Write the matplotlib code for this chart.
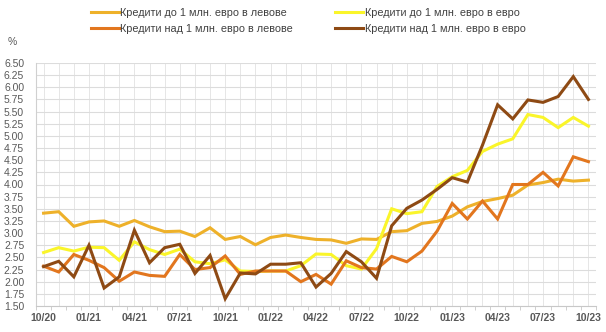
import matplotlib
matplotlib.use("Agg")
import matplotlib.pyplot as plt
import numpy as np

plt.rcParams["font.family"] = ["Liberation Sans", "DejaVu Sans"]

months = ["10/20", "11/20", "12/20", "01/21", "02/21", "03/21", "04/21", "05/21", "06/21",
          "07/21", "08/21", "09/21", "10/21", "11/21", "12/21", "01/22", "02/22", "03/22",
          "04/22", "05/22", "06/22", "07/22", "08/22", "09/22", "10/22", "11/22", "12/22",
          "01/23", "02/23", "03/23", "04/23", "05/23", "06/23", "07/23", "08/23", "09/23",
          "10/23"]

# loans up to 1 mln EUR in BGN
small_bgn = [3.41, 3.44, 3.14, 3.23, 3.25, 3.14, 3.26, 3.13, 3.03, 3.04, 2.93, 3.11, 2.87,
             2.93, 2.76, 2.91, 2.96, 2.91, 2.87, 2.86, 2.79, 2.88, 2.87, 3.03, 3.05, 3.20,
             3.24, 3.35, 3.54, 3.65, 3.71, 3.78, 3.99, 4.04, 4.11, 4.07, 4.09]
# loans up to 1 mln EUR in EUR
small_eur = [2.60, 2.70, 2.63, 2.71, 2.70, 2.44, 2.82, 2.66, 2.56, 2.67, 2.41, 2.37, 2.45,
             2.22, 2.21, 2.22, 2.22, 2.33, 2.57, 2.56, 2.33, 2.26, 2.68, 3.50, 3.40, 3.44,
             3.96, 4.16, 4.29, 4.68, 4.83, 4.94, 5.44, 5.38, 5.17, 5.38, 5.20]
# loans over 1 mln EUR in BGN
large_bgn = [2.32, 2.20, 2.56, 2.44, 2.29, 2.01, 2.20, 2.13, 2.11, 2.56, 2.25, 2.29, 2.53,
             2.15, 2.22, 2.22, 2.22, 2.00, 2.15, 1.95, 2.43, 2.29, 2.26, 2.52, 2.41, 2.63,
             3.04, 3.61, 3.29, 3.66, 3.29, 4.00, 4.00, 4.25, 3.97, 4.57, 4.47]
# loans over 1 mln EUR in EUR
large_eur = [2.31, 2.42, 2.10, 2.75, 1.87, 2.10, 3.06, 2.39, 2.70, 2.77, 2.17, 2.54, 1.65,
             2.18, 2.16, 2.36, 2.36, 2.39, 1.89, 2.17, 2.62, 2.41, 2.07, 3.15, 3.51, 3.68,
             3.90, 4.14, 4.05, 4.81, 5.64, 5.35, 5.74, 5.69, 5.81, 6.22, 5.75]

labels = ["Кредити до 1 млн. евро в левове", "Кредити до 1 млн. евро в евро",
          "Кредити над 1 млн. евро в левове", "Кредити над 1 млн. евро в евро"]
colors = ["#EEB12A", "#FAF52A", "#E2761E", "#8E4A14"]

fig = plt.figure(figsize=(6.06, 3.32), dpi=100)
ax = fig.add_axes([36 / 606, 1 - 306 / 332, 560 / 606, 243 / 332])

x = np.arange(len(months))
lines = []
for vals, c, lab in zip([small_bgn, small_eur, large_bgn, large_eur], colors, labels):
    ln, = ax.plot(x, vals, color=c, lw=2.2, label=lab, solid_joinstyle="miter")
    lines.append(ln)

ax.set_xlim(-0.5, len(months) - 0.5)
ax.set_ylim(1.5, 6.5)
yt = np.arange(1.5, 6.51, 0.25)
ax.set_yticks(yt)
ax.set_yticklabels([f"{v:.2f}" for v in yt])
ax.set_xticks(x[::3])
ax.set_xticklabels(months[::3])
ax.set_xticks(np.arange(-0.5, len(months), 1), minor=True)

ax.grid(axis="y", color="#dcdcdc", lw=0.8)
for xi in x:
    ax.axvline(xi, color="#e6e6e6", lw=0.7, zorder=0)
ax.set_axisbelow(True)

for s in ["top", "right"]:
    ax.spines[s].set_visible(False)
ax.spines["left"].set_color("#d0d0d0")
ax.spines["bottom"].set_color("#c8c8c8")

ax.tick_params(axis="y", length=0, labelsize=7.5, colors="#595959", pad=8.5)
ax.tick_params(axis="x", which="major", length=0, labelsize=7.5, colors="#595959", pad=5)
ax.tick_params(axis="x", which="minor", length=3, color="#c8c8c8")
for t in ax.get_xticklabels():
    t.set_fontweight("bold")

fig.text(8 / 606, 1 - 42 / 332, "%", fontsize=7.5, color="#595959", va="center")

order = [lines[0], lines[2], lines[1], lines[3]]
fig.legend(order, [l.get_label() for l in order], ncol=2, loc="upper left",
           bbox_to_anchor=(81 / 606, 1 + 2 / 332), frameon=False, fontsize=7.8,
           handlelength=2.6, handletextpad=0.12, columnspacing=3.9, labelspacing=0.55,
           labelcolor="#404040")

fig.savefig("out.png", dpi=100)
